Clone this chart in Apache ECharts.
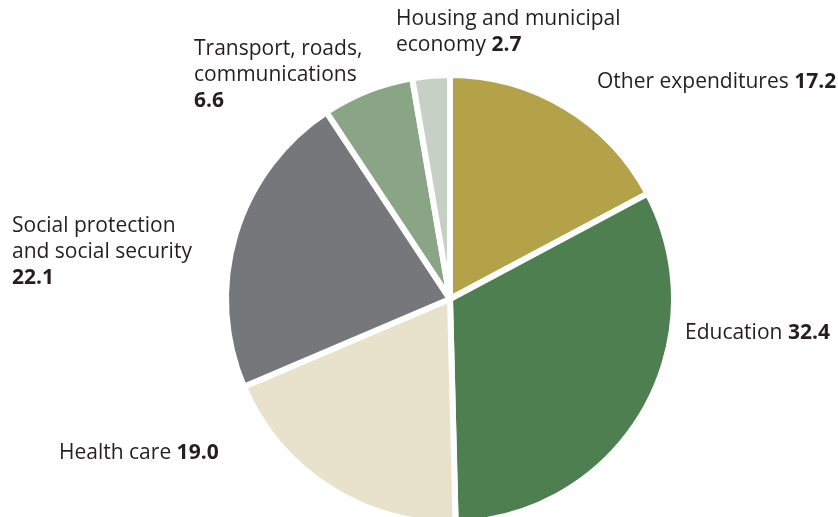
<!DOCTYPE html>
<html>
<head>
<meta charset="utf-8">
<script src="https://cdn.jsdelivr.net/npm/echarts@6/dist/echarts.min.js"></script>
<style>
  html, body { margin: 0; padding: 0; background: #ffffff; }
  #chart { width: 838px; height: 517px; }
</style>
</head>
<body>
<div id="chart"></div>
<script>
// Expenditure shares, clockwise from 12 o'clock
const categories = [
  'Other expenditures',
  'Education',
  'Health care',
  'Social protection and social security',
  'Transport, roads, communications',
  'Housing and municipal economy'
];
const values = [17.2, 32.4, 19.0, 22.1, 6.6, 2.7];

// How each label's name breaks across lines (value appended in bold)
const nameLines = [
  ['Other expenditures'],
  ['Education'],
  ['Health care'],
  ['Social protection', 'and social security', ''],
  ['Transport, roads,', 'communications', ''],
  ['Housing and municipal', 'economy']
];

const colors = ['#b3a247', '#4e7f50', '#e8e2cc', '#76777b', '#8aa585', '#c6d0c4'];

// Top-left anchor of each label block
const labelAnchors = [
  [597, 69],
  [685, 320],
  [59, 440],
  [12, 213],
  [194, 36],
  [396, 6]
];

function labelText(i) {
  const lines = nameLines[i];
  const out = lines.map((l, k) => {
    if (k === lines.length - 1) {
      return (l ? '{n|' + l + ' }' : '') + '{b|' + values[i].toFixed(1) + '}';
    }
    return '{n|' + l + '}';
  });
  return out.join('\n');
}

const chart = echarts.init(document.getElementById('chart'), null, { renderer: 'canvas' });
chart.setOption({
  animation: false,
  backgroundColor: '#ffffff',
  series: [{
    type: 'pie',
    center: [450, 299],
    radius: [0, 224],
    startAngle: 90,
    clockwise: true,
    avoidLabelOverlap: false,
    itemStyle: { borderColor: '#ffffff', borderWidth: 6 },
    label: {
      show: true,
      position: 'outside',
      formatter: p => labelText(p.dataIndex),
      align: 'left',
      rich: {
        n: { fontFamily: 'Open Sans', fontSize: 21, color: '#231f20', lineHeight: 26 },
        b: { fontFamily: 'Open Sans', fontSize: 21, fontWeight: 'bold', color: '#231f20', lineHeight: 26 }
      }
    },
    labelLine: { show: false },
    labelLayout: p => {
      const a = labelAnchors[p.dataIndex];
      return { x: a[0], y: a[1], align: 'left', verticalAlign: 'top' };
    },
    data: categories.map((c, i) => ({ name: c, value: values[i], itemStyle: { color: colors[i] } }))
  }]
});
</script>
</body>
</html>
